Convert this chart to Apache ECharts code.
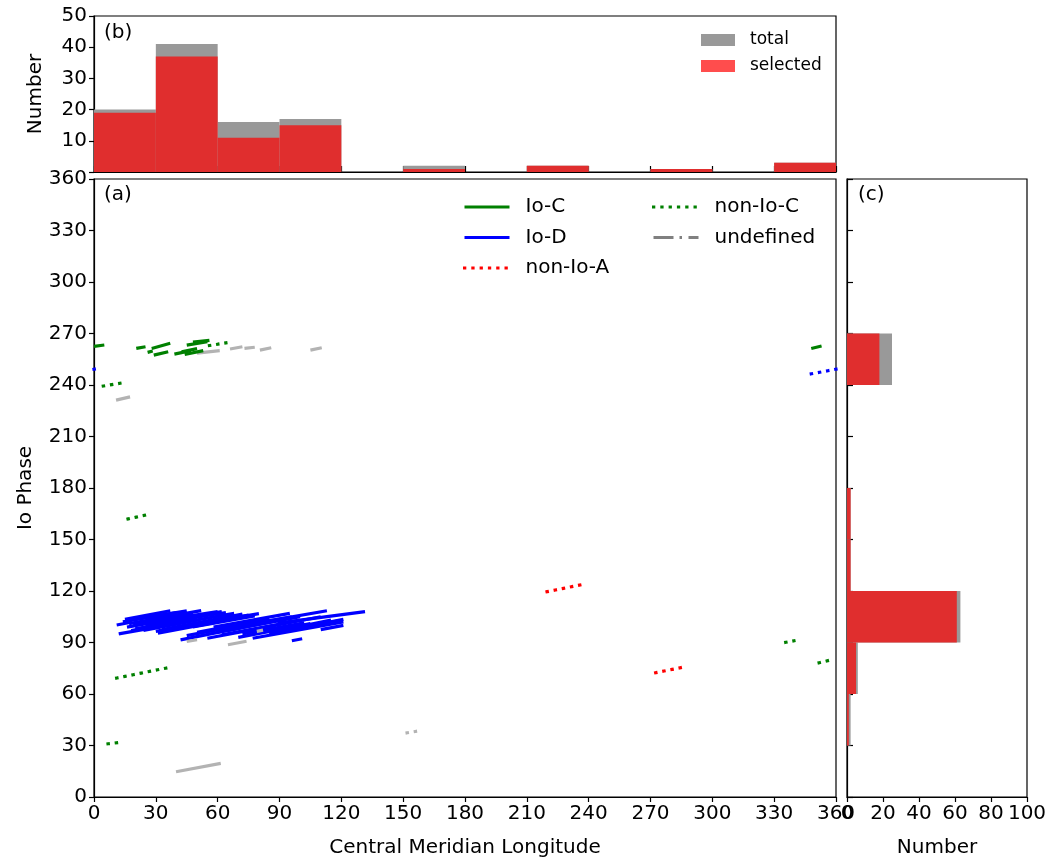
<!DOCTYPE html>
<html>
<head>
<meta charset="utf-8">
<script src="https://cdn.jsdelivr.net/npm/echarts@6/dist/echarts.min.js"></script>
<style>html,body{margin:0;padding:0;background:#fff}#c{width:1054px;height:866px}</style>
</head>
<body>
<div id="c"></div>
<script>
// ---- data ----
const binLabels = ['0-30','30-60','60-90','90-120','120-150','150-180','180-210','210-240','240-270','270-300','300-330','330-360'];
// (b) histogram over Central Meridian Longitude
const topTotal    = [20, 41, 16, 17, 0, 2, 0, 2, 0, 1, 0, 3];
const topSelected = [19, 37, 11, 15, 0, 1, 0, 2, 0, 1, 0, 3];
// (c) histogram over Io Phase
const rightTotal    = [0, 2, 6, 63, 2, 2, 0, 0, 25, 0, 0, 0];
const rightSelected = [0, 1, 5, 61, 2, 2, 0, 0, 18, 0, 0, 0];
// segments: [lon1, phase1, lon2, phase2]
const ioC = [
  [0,262.5,5,263.3],[348,261.3,353,262.7],[20.5,261.3,25,262.3],[26,259,28.5,259.8],
  [28,261.3,37,264.3],[29,257.4,36,259.4],[39,258,47,260],[42.5,259.4,50,261.2],
  [44,257.8,53,260],[48,265,56,266],[45,263.2,55,265.2]
];
const ioD = [
  [11,100.2,18,101.8],[12,95,40,101],[15,103.5,37,108.5],[17,101,45,107],[20,98,50,104.5],
  [22,104,45,108.5],[25,99.5,55,106],[28,102,60,108],[30,96.5,52,101.5],[31,95.5,60,102],
  [35,100,68,107],[38,98,75,106],[42,91.5,71,98.5],[45,94,80,102],[50,96,85,104],
  [55,92.5,88,100],[58,99,95,107],[62,94.5,98,102.5],[65,97,100,105],[70,93,105,101],
  [77,92.5,121,102],[82,102,113,108.5],[89,101.3,131.5,108],[96,91,101,92.2],[110,97.5,121,100],
  [75,97,110,105],[85,95,118,102.5],[61,104,72,106.5],[18,97,30,99.5],[40,103,62,108],
  [14,102,40,107.5],[16,99,42,104.5],[19,100.5,48,107],[24,97,50,103],[26,103,52,108.6],
  [33,97.5,63,104.5],[36,102,64,107.5],[48,99,78,105.5],[52,101,80,106.8],[60,96,90,103],
  [68,99,96,105],[72,95,102,101.5],[90,97,115,103],[100,98.5,121,103.5]
];
const ioDDotted = [[348,246.5,360,249.2],[0,249.2,2,249.6]];
const nonIoA = [[219.8,119.6,235.8,123.5],[272.5,72.4,284.5,75.3]];
const nonIoC = [
  [4.5,239.4,12.6,241],[56,263,64,264.5],[16.5,162,28,165],[11,69.3,35,75.1],
  [6.8,31,11,31.6],[335.6,90.1,339.6,91],[351.8,78.2,356,79.4]
];
const undefinedSeg = [
  [50,258.6,61,260],[66,261,72,262.3],[73,261.3,78,262],[80.5,260.3,86,261.7],
  [105,260.3,110.5,261.7],[10.7,231.2,17.5,233.1],[39.8,14.7,61.5,19.6],
  [45,90.6,50,91.6],[65,88.7,74,90.7],[79,96.5,82,97.2]
];
const undefinedDotted = [[151.9,37.4,156,38.2]];

// ---- chart ----
const FONT = 'DejaVu Sans';
const FS = 20;
const chart = echarts.init(document.getElementById('c'), null, {renderer:'canvas'});
const DOT = [0.3, 8.0];
const LW = 3.2;

function segs(name, arr, color, width, type, cap) {
  return arr.map(s => ({
    type: 'line', name: name, xAxisIndex: 1, yAxisIndex: 1,
    data: [[s[0], s[1]], [s[2], s[3]]],
    symbol: 'none', showSymbol: false, silent: true, animation: false,
    itemStyle: {color: color},
    lineStyle: {color: color, width: width, type: type, cap: cap || 'butt'}
  }));
}

const series = [
  {type:'bar', name:'total', xAxisIndex:0, yAxisIndex:0, data: topTotal, barWidth:'100%', barGap:'-100%', itemStyle:{color:'#999999'}, animation:false, silent:true},
  {type:'bar', name:'selected', xAxisIndex:0, yAxisIndex:0, data: topSelected, barWidth:'100%', barGap:'-100%', itemStyle:{color:'#e02e2e'}, animation:false, silent:true},
  {type:'bar', name:'total_r', xAxisIndex:2, yAxisIndex:2, data: rightTotal, barWidth:'100%', barGap:'-100%', itemStyle:{color:'#999999'}, animation:false, silent:true},
  {type:'bar', name:'selected_r', xAxisIndex:2, yAxisIndex:2, data: rightSelected, barWidth:'100%', barGap:'-100%', itemStyle:{color:'#e02e2e'}, animation:false, silent:true},
  ...segs('Io-D', ioD, '#0000ff', LW, 'solid'),
  ...segs('Io-D dotted', ioDDotted, '#0000ff', LW, DOT, 'square'),
  ...segs('undefined', undefinedSeg, '#b3b3b3', LW, 'solid'),
  ...segs('undefined', undefinedDotted, '#b3b3b3', LW, DOT, 'square'),
  ...segs('Io-C', ioC, '#008000', LW, 'solid'),
  ...segs('non-Io-C', nonIoC, '#008000', LW, DOT, 'square'),
  ...segs('non-Io-A', nonIoA, '#ff0000', LW, DOT, 'square')
];

const axLine = {show:true, lineStyle:{color:'#000', width:1.2}};
const tickOut = {show:true, length:5, lineStyle:{color:'#000', width:1.2}};
const lab = {color:'#000', fontSize:FS, fontFamily:FONT};
const nameStyle = {color:'#000', fontSize:FS, fontFamily:FONT};
const hideSym = {opacity: 0};

chart.setOption({
  animation: false,
  textStyle: {fontFamily: FONT},
  grid: [
    {left:94, top:16, width:742, height:156, show:true, borderColor:'#000', borderWidth:1.2, backgroundColor:'#fff'},
    {left:94, top:179, width:742, height:618, show:true, borderColor:'#000', borderWidth:1.2, backgroundColor:'#fff'},
    {left:847, top:179, width:180, height:618, show:true, borderColor:'#000', borderWidth:1.2, backgroundColor:'#fff'}
  ],
  xAxis: [
    {type:'category', gridIndex:0, data: binLabels, boundaryGap:true,
     axisLine:axLine, axisTick:{show:true, inside:true, length:6, interval:0, alignWithLabel:false, lineStyle:{color:'#000', width:1.2}},
     axisLabel:{show:false}, splitLine:{show:false}},
    {type:'value', gridIndex:1, min:0, max:360, interval:30,
     axisLine:axLine, axisTick:tickOut, splitLine:{show:false},
     axisLabel:Object.assign({margin:7, showMinLabel:true, showMaxLabel:true, hideOverlap:false}, lab),
     name:'Central Meridian Longitude', nameLocation:'middle', nameGap:41, nameTextStyle:nameStyle},
    {type:'value', gridIndex:2, min:0, max:100, interval:20,
     axisLine:axLine, axisTick:tickOut, splitLine:{show:false},
     axisLabel:Object.assign({margin:7, showMinLabel:true, showMaxLabel:true, hideOverlap:false}, lab),
     name:'Number', nameLocation:'middle', nameGap:41, nameTextStyle:nameStyle}
  ],
  yAxis: [
    {type:'value', gridIndex:0, min:0, max:50, interval:10,
     axisLine:axLine, axisTick:tickOut, splitLine:{show:false},
     axisLabel:Object.assign({margin:7, formatter: v => v === 0 ? '' : String(v)}, lab),
     name:'Number', nameLocation:'middle', nameGap:48, nameTextStyle:nameStyle},
    {type:'value', gridIndex:1, min:0, max:360, interval:30,
     axisLine:axLine, axisTick:tickOut, splitLine:{show:false},
     axisLabel:Object.assign({margin:7}, lab),
     name:'Io Phase', nameLocation:'middle', nameGap:58, nameTextStyle:nameStyle},
    {type:'category', gridIndex:2, data: binLabels, boundaryGap:true,
     axisLine:axLine, axisTick:{show:true, inside:true, length:6, interval:0, alignWithLabel:false, lineStyle:{color:'#000', width:1.2}},
     axisLabel:{show:false}, splitLine:{show:false}}
  ],
  legend: [
    {orient:'vertical', left:701, top:30, padding:0, itemWidth:34, itemHeight:12, itemGap:6, icon:'rect',
     selectedMode:false, textStyle:{color:'#000', fontSize:17, fontFamily:FONT, lineHeight:20, padding:[0,0,0,10]},
     data:[{name:'total'}, {name:'selected', itemStyle:{color:'#ff4d4d'}}]},
    {orient:'vertical', left:463, top:195, padding:0, itemWidth:45, itemHeight:14, itemGap:6.5,
     selectedMode:false, itemStyle: hideSym, lineStyle:{width:3},
     textStyle:{color:'#000', fontSize:FS, fontFamily:FONT, lineHeight:24, padding:[0,0,0,11]},
     data:['Io-C','Io-D','non-Io-A']},
    {orient:'vertical', left:652, top:195, padding:0, itemWidth:45, itemHeight:14, itemGap:6.5,
     selectedMode:false, itemStyle: hideSym, lineStyle:{width:3},
     textStyle:{color:'#000', fontSize:FS, fontFamily:FONT, lineHeight:24, padding:[0,0,0,11]},
     data:[{name:'non-Io-C'}, {name:'undefined', lineStyle:{color:'#808080', type:[20,6,2.5,6.5], width:3, cap:'butt'}, itemStyle:{color:'#808080', opacity:0}}]}
  ],
  graphic: [
    {type:'rect', z:-1, shape:{x:693, y:25, width:137, height:57, r:3}, style:{fill:'rgba(255,255,255,0.8)', stroke:'#cccccc', lineWidth:1}},
    {type:'rect', z:-1, shape:{x:456, y:190, width:371, height:98, r:3}, style:{fill:'rgba(255,255,255,0.8)', stroke:'#cccccc', lineWidth:1}},
    {type:'text', left:104, top:23, style:{text:'(b)', fontSize:FS, fontFamily:FONT, fill:'#000'}},
    {type:'text', left:104, top:185, style:{text:'(a)', fontSize:FS, fontFamily:FONT, fill:'#000'}},
    {type:'text', left:858, top:185, style:{text:'(c)', fontSize:FS, fontFamily:FONT, fill:'#000'}}
  ],
  series: series
});
</script>
</body>
</html>
